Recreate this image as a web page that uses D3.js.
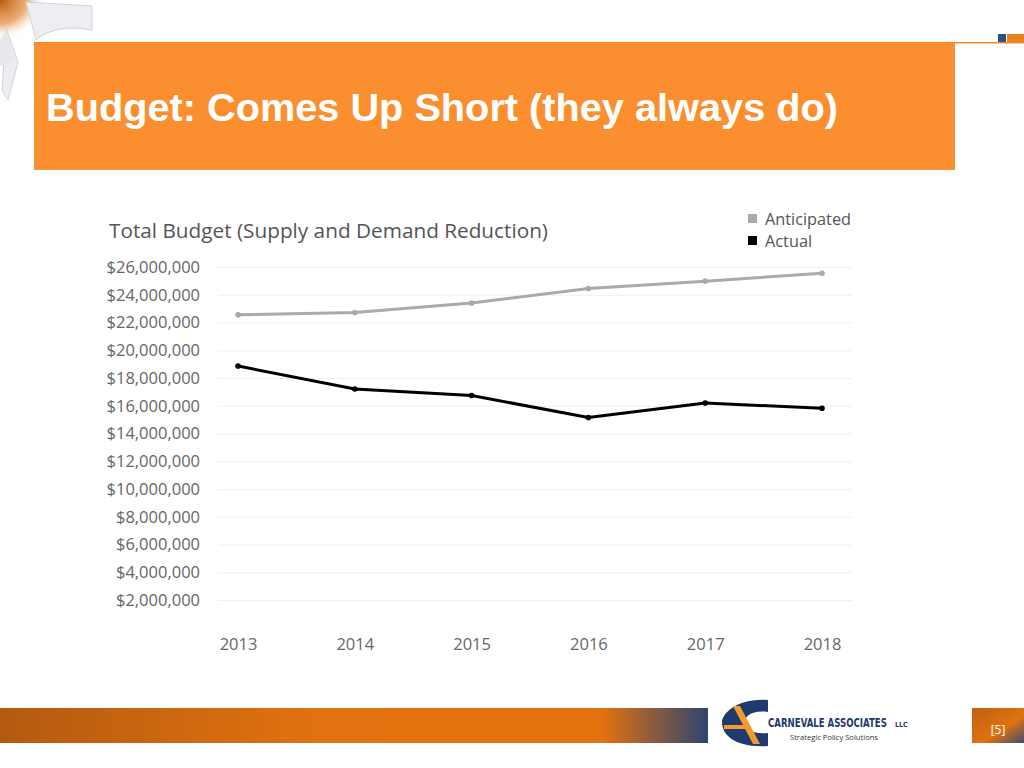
<!DOCTYPE html>
<html><head><meta charset="utf-8">
<script src="https://cdn.jsdelivr.net/npm/d3@7"></script>
<style>body{margin:0;background:#fff;}svg{display:block;}</style>
</head><body>
<svg id="c" width="1024" height="768"></svg>
<script>
const years = ["2013","2014","2015","2016","2017","2018"];
const anticipated = [22.55, 22.72, 23.4, 24.45, 24.98, 25.55];
const actual = [18.86, 17.21, 16.74, 15.15, 16.2, 15.82];
const tickValues = [2,4,6,8,10,12,14,16,18,20,22,24,26];
const seriesNames = ["Anticipated","Actual"];
const seriesColors = ["#aaaaaa","#000000"];

const svg = d3.select("#c");
const defs = svg.append("defs");

// fit a text element to a width by horizontal scaling
function fitText(g, sel, w) {
  const n = sel.node().getComputedTextLength();
  return n;
}

// top-left decoration
const tl = defs.append("radialGradient").attr("id","tlg").attr("cx","0").attr("cy","0").attr("r","1");
tl.append("stop").attr("offset","0").attr("stop-color","#b85a10");
tl.append("stop").attr("offset","0.6").attr("stop-color","#e07a20").attr("stop-opacity",0.6);
tl.append("stop").attr("offset","1").attr("stop-color","#fff").attr("stop-opacity",0);
svg.append("rect").attr("x",0).attr("y",0).attr("width",45).attr("height",40).attr("fill","url(#tlg)");
svg.append("path").attr("d","M26,2 L92,6 L92,30 C70,26 50,28 36,40 Z").attr("fill","#eceef2").attr("stroke","#cfd3da").attr("stroke-width",1);
svg.append("path").attr("d","M6,28 L18,62 L8,100 L2,90 Z").attr("fill","#eceef2").attr("stroke","#cfd3da");
svg.append("path").attr("d","M0,40 L6,30 L14,60 L0,66 Z").attr("fill","#e6e8ee");

// header line + box
svg.append("rect").attr("x",34).attr("y",42).attr("width",990).attr("height",1.5).attr("fill","#f08a2a");
svg.append("rect").attr("x",998).attr("y",34).attr("width",8).attr("height",8).attr("fill","#2b4f86");
svg.append("rect").attr("x",1007).attr("y",34).attr("width",17).attr("height",8).attr("fill","#e8821f");
svg.append("rect").attr("x",34).attr("y",43).attr("width",921).attr("height",127).attr("fill","#fb8f2f");
svg.append("text").attr("x",46).attr("y",121).attr("fill","#fff")
  .attr("font-family","Liberation Sans, Arial, sans-serif").attr("font-weight","bold").attr("font-size",39.5)
  .attr("textLength",792).attr("lengthAdjust","spacingAndGlyphs")
  .text("Budget: Comes Up Short (they always do)");

// chart
const x = d3.scalePoint().domain(years).range([238,822]);
const y = d3.scaleLinear().domain([0,26]).range([627.75,267]);
const font = "Open Sans, Noto Sans, sans-serif";

svg.append("text").attr("x",109).attr("y",238).attr("fill","#555").attr("font-family",font).attr("font-size",20.5)
  .attr("textLength",439).attr("lengthAdjust","spacingAndGlyphs")
  .text("Total Budget (Supply and Demand Reduction)");

const ga = svg.append("g").attr("transform","translate(218,0)")
  .call(d3.axisLeft(y).tickValues(tickValues).tickSize(-634).tickFormat(d => "$" + d3.format(",")(d*1e6)));
ga.select(".domain").remove();
ga.selectAll(".tick line").attr("stroke","#f0f0f0");
ga.selectAll(".tick text").attr("x",-18).attr("fill","#666").attr("font-family",font).attr("font-size",16.5);

const gx = svg.append("g").attr("transform","translate(0,628)")
  .call(d3.axisBottom(x).tickSize(0));
gx.select(".domain").remove();
gx.selectAll(".tick text").attr("dy",0).attr("y",22).attr("fill","#666").attr("font-family",font).attr("font-size",16.5);

const series = [anticipated, actual];
const line = d3.line().x((d,i)=>x(years[i])).y(d=>y(d));
series.forEach((s,k)=>{
  svg.append("path").datum(s).attr("d",line).attr("fill","none").attr("stroke",seriesColors[k]).attr("stroke-width",3);
  svg.selectAll(null).data(s).enter().append("circle")
    .attr("cx",(d,i)=>x(years[i])).attr("cy",d=>y(d)).attr("r",2.8).attr("fill",seriesColors[k]);
});

// legend
seriesNames.forEach((n,k)=>{
  svg.append("rect").attr("x",748).attr("y",214+k*22).attr("width",9).attr("height",9).attr("fill",seriesColors[k]);
  svg.append("text").attr("x",765).attr("y",224.5+k*22).attr("fill","#555").attr("font-family",font).attr("font-size",16.3).text(n);
});

// footer
const fg = defs.append("linearGradient").attr("id","fg").attr("x1","0").attr("x2","1");
fg.append("stop").attr("offset","0").attr("stop-color","#b45a10");
fg.append("stop").attr("offset","0.45").attr("stop-color","#e2720f");
fg.append("stop").attr("offset","0.85").attr("stop-color","#e4720f");
fg.append("stop").attr("offset","1").attr("stop-color","#2e4470");
svg.append("rect").attr("x",0).attr("y",708).attr("width",708).attr("height",35).attr("fill","url(#fg)");
const pg = defs.append("linearGradient").attr("id","pg").attr("x1","0").attr("y1","0").attr("x2","1").attr("y2","1");
pg.append("stop").attr("offset","0").attr("stop-color","#c0600f");
pg.append("stop").attr("offset","0.6").attr("stop-color","#e0720f");
pg.append("stop").attr("offset","1").attr("stop-color","#3a4a70");
svg.append("rect").attr("x",972).attr("y",708).attr("width",52).attr("height",35).attr("fill","url(#pg)");
svg.append("text").attr("x",998).attr("y",734).attr("text-anchor","middle").attr("fill","#fff").attr("font-family",font).attr("font-size",12).text("[5]");

// logo
svg.append("path").attr("d","M768,700 C735,698 722,715 722,722 C722,735 735,748 768,746 L768,733 C752,735 745,728 745,722 C745,716 752,710 768,712 Z").attr("fill","#1f3a6e");
svg.append("path").attr("d","M733,706 L740,706 L760,744 L753,744 Z").attr("fill","#f59a2c");
svg.append("rect").attr("x",724).attr("y",725).attr("width",24).attr("height",4).attr("fill","#f59a2c");
const lg = svg.append("g").attr("transform","translate(768,727)");
const lt = lg.append("text").attr("x",0).attr("y",0).attr("fill","#1f3a6e").attr("font-family","DejaVu Sans Condensed, DejaVu Sans, sans-serif").attr("font-weight","bold").attr("font-size",11.5)
  .text("CARNEVALE ASSOCIATES");
const nat = lt.node().getComputedTextLength();
lg.attr("transform",`translate(768,727) scale(${119/nat},1)`);
svg.append("text").attr("x",895).attr("y",727).attr("fill","#1f3a6e").attr("font-family","DejaVu Sans Condensed, DejaVu Sans, sans-serif").attr("font-weight","bold").attr("font-size",7)
  .text("LLC");
svg.append("text").attr("x",790).attr("y",740).attr("fill","#333").attr("font-family",font).attr("font-size",7.6).text("Strategic Policy Solutions");
</script>
</body></html>
